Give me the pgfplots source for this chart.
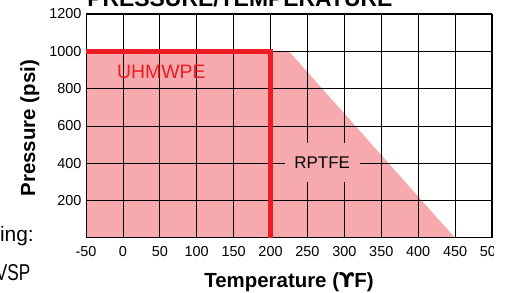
\documentclass[border=0pt]{standalone}
\usepackage{pgfplots}
\pgfplotsset{compat=1.18}
\usepackage{fontspec}
\setmainfont{Liberation Sans}
\newfontfamily\dejavu{DejaVu Sans}
\newfontfamily\narrowfont[FakeStretch=0.75]{Liberation Sans}
\definecolor{pinkfill}{RGB}{246,170,173}
\definecolor{redline}{RGB}{237,28,36}
\begin{document}
\begin{tikzpicture}
\begin{axis}[
  set layers,
  at={(86bp,55bp)}, anchor=south west,
  scale only axis, width=406bp, height=224bp,
  xmin=-50, xmax=500, ymin=0, ymax=1200,
  xtick={-50,0,...,500}, ytick={200,400,...,1200},
  grid=major, grid style={black, line width=0.8bp},
  axis line style={black, line width=1bp},
  major tick length=0pt,
  tick label style={font=\fontsize{14.5}{16}\selectfont},
  /pgf/number format/assume math mode=true,
  /pgf/number format/1000 sep={},
  xticklabel style={yshift=-5bp},
  yticklabel style={xshift=-1bp},
  every axis title shift=0pt,
  title={\fontsize{23}{27}\selectfont\bfseries PRESSURE/TEMPERATURE},
  title style={at={(axis description cs:0.379,1.03125)}, anchor=base, yshift=0pt},
  xlabel={\fontsize{20.5}{24}\selectfont\bfseries Temperature ({\dejavu\bfseries ϒ}F)},
  ylabel={\fontsize{20.5}{24}\selectfont\bfseries Pressure (psi)},
  every axis x label/.style={at={(axis description cs:0.5,-0.2232)}, anchor=base},
  every axis y label/.style={at={(axis description cs:-0.1256,0.49)}, anchor=base, rotate=90},
]
\addplot[fill=pinkfill, draw=none, on layer=axis background] coordinates {(-50,1000) (225,1000) (450,0)} \closedcycle;
\addplot[redline, line width=4.5bp, line join=miter] coordinates {(-50,1000) (200,1000) (200,0)};
\node[text=redline, font=\fontsize{19.5}{22}\selectfont] at (axis cs:52,892) {UHMWPE};
\node[fill=pinkfill, inner sep=0pt, minimum width=75bp, minimum height=39bp, font=\fontsize{17}{20}\selectfont] at (axis cs:270,402) {RPTFE};
\end{axis}
\node[anchor=base east, inner sep=0pt, font=\fontsize{21}{24}\selectfont] at (34bp,51bp) {ing:};
\node[anchor=base east, inner sep=0pt, font=\narrowfont\fontsize{23}{26}\selectfont] at (30.5bp,13bp) {VSP};
\fill[white] (494bp,0) rectangle (510bp,293bp);
\pgfresetboundingbox
\useasboundingbox (0,0) rectangle (507bp,293bp);
\end{tikzpicture}
\end{document}
